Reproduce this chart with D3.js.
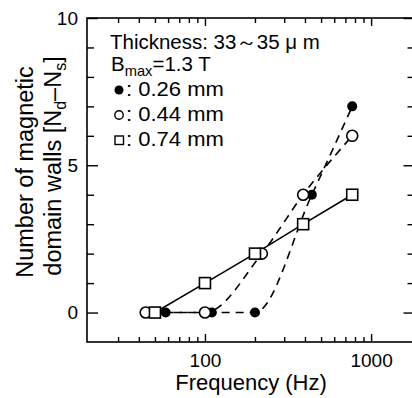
<!DOCTYPE html>
<html>
<head>
<meta charset="utf-8">
<script src="https://cdn.jsdelivr.net/npm/d3@7"></script>
<style>
  html, body { margin: 0; padding: 0; background: #fff; }
  svg { display: block; font-family: "Liberation Sans", Arial, Helvetica, sans-serif; }
</style>
</head>
<body>
<div id="chart"></div>
<script>
// frequency (Hz) and number of domain walls per sheet thickness
const freq026 = [58, 110, 200, 440, 770];
const walls026 = [0, 0, 0, 4, 7];
const freq044 = [44, 100, 220, 390, 770];
const walls044 = [0, 0, 2, 4, 6];
const freq074 = [50, 100, 200, 390, 770];
const walls074 = [0, 1, 2, 3, 4];

const freqDomain = [19.5, 1800];
const wallDomain = [-1, 10];
const xMajor = [100, 1000];
const xMinor = [30, 40, 50, 60, 70, 80, 90, 200, 300, 400, 500, 600, 700, 800, 900];
const yMajor = [0, 5, 10];
const yMinor = [1, 2, 3, 4, 6, 7, 8, 9];
const legendLabels = [': 0.26 mm', ': 0.44 mm', ': 0.74 mm'];

const width = 412, height = 398;
const margin = {top: 18, right: -1.5, bottom: 56, left: 87};

const svg = d3.select('#chart').append('svg')
    .attr('width', width)
    .attr('height', height);

const x = d3.scaleLog()
    .domain(freqDomain)
    .range([margin.left, width - margin.right]);
const y = d3.scaleLinear()
    .domain(wallDomain)
    .range([height - margin.bottom, margin.top]);

const plotW = x.range()[1] - x.range()[0];
const plotH = y.range()[0] - y.range()[1];

// ticks, all pointing inside the frame
function tickGroup(axis, tx, ty) {
  const g = svg.append('g')
      .attr('transform', `translate(${tx},${ty})`)
      .call(axis);
  g.select('.domain').remove();
  g.selectAll('line').attr('stroke-width', 1.4);
  g.attr('font-family', null).attr('font-size', 19);
  return g;
}

const xB = y(wallDomain[0]), yT = y(wallDomain[1]);
const xL = x(freqDomain[0]), xR = x(freqDomain[1]);

tickGroup(d3.axisBottom(x).tickValues(xMinor).tickSize(-5).tickFormat(''), 0, xB);
tickGroup(d3.axisBottom(x).tickValues(xMajor).tickSize(-8).tickPadding(12)
    .tickFormat(d3.format('d')), 0, xB);
tickGroup(d3.axisTop(x).tickValues(xMinor).tickSize(-5).tickFormat(''), 0, yT);
tickGroup(d3.axisTop(x).tickValues(xMajor).tickSize(-8).tickFormat(''), 0, yT);

tickGroup(d3.axisLeft(y).tickValues(yMinor).tickSize(-7).tickFormat(''), xL, 0);
tickGroup(d3.axisLeft(y).tickValues(yMajor).tickSize(-11).tickPadding(9)
    .tickFormat(d3.format('d')), xL, 0);
tickGroup(d3.axisRight(y).tickValues(yMinor).tickSize(-6).tickFormat(''), xR, 0);
tickGroup(d3.axisRight(y).tickValues(yMajor).tickSize(-10).tickFormat(''), xR, 0);

// frame
svg.append('rect')
    .attr('x', xL).attr('y', yT)
    .attr('width', plotW).attr('height', plotH)
    .attr('fill', 'none')
    .attr('stroke', '#000')
    .attr('stroke-width', 1.6);

// curves
const toPts = (fs, ws) => fs.map((f, i) => [f, ws[i]]);
const data026 = toPts(freq026, walls026);
const data044 = toPts(freq044, walls044);
const data074 = toPts(freq074, walls074);

const smooth = d3.line().x(d => x(d[0])).y(d => y(d[1])).curve(d3.curveMonotoneX);
const straight = d3.line().x(d => x(d[0])).y(d => y(d[1]));

svg.append('path').attr('d', smooth(data026))
    .attr('fill', 'none').attr('stroke', '#000').attr('stroke-width', 1.6)
    .attr('stroke-dasharray', '8,6');
svg.append('path').attr('d', smooth(data044))
    .attr('fill', 'none').attr('stroke', '#000').attr('stroke-width', 1.6)
    .attr('stroke-dasharray', '8,6');
svg.append('path').attr('d', straight(data074))
    .attr('fill', 'none').attr('stroke', '#000').attr('stroke-width', 1.6);

// markers
svg.selectAll('.m026').data(data026).enter().append('circle')
    .attr('class', 'm026')
    .attr('cx', d => x(d[0])).attr('cy', d => y(d[1]))
    .attr('r', 5).attr('fill', '#000');
svg.selectAll('.m044').data(data044).enter().append('circle')
    .attr('class', 'm044')
    .attr('cx', d => x(d[0])).attr('cy', d => y(d[1]))
    .attr('r', 5.5).attr('fill', '#fff')
    .attr('stroke', '#000').attr('stroke-width', 1.6);
svg.selectAll('.m074').data(data074).enter().append('rect')
    .attr('class', 'm074')
    .attr('x', d => x(d[0]) - 5.5).attr('y', d => y(d[1]) - 5.5)
    .attr('width', 11).attr('height', 11)
    .attr('fill', '#fff')
    .attr('stroke', '#000').attr('stroke-width', 1.6);

// legend (the scanned type runs a little wide, hence the scaleX)
const leg = svg.append('g').attr('font-size', 19.5);
leg.append('text')
    .attr('transform', 'translate(110,49) scale(1.05,1)')
    .text('Thickness: 33～35 μ m');
const bmax = leg.append('text').attr('transform', 'translate(111,71) scale(1.05,1)');
bmax.append('tspan').text('B');
bmax.append('tspan').attr('font-size', 14).attr('dy', 5).text('max');
bmax.append('tspan').attr('dy', -5).text('=1.3 T');

const rowY = [96, 121, 146];
leg.append('circle').attr('cx', 119).attr('cy', rowY[0] - 6).attr('r', 4.5).attr('fill', '#000');
leg.append('circle').attr('cx', 119).attr('cy', rowY[1] - 6).attr('r', 4.2)
    .attr('fill', '#fff').attr('stroke', '#000').attr('stroke-width', 1.4);
leg.append('rect').attr('x', 115).attr('y', rowY[2] - 10).attr('width', 8.5).attr('height', 8.5)
    .attr('fill', '#fff').attr('stroke', '#000').attr('stroke-width', 1.4);
leg.selectAll('.lt').data(legendLabels).enter().append('text')
    .attr('class', 'lt')
    .attr('transform', (d, i) => `translate(126,${rowY[i]}) scale(1.13,1)`)
    .text(d => d);

// axis titles
svg.append('text')
    .attr('x', 251).attr('y', 390)
    .attr('text-anchor', 'middle')
    .attr('font-size', 22)
    .text('Frequency (Hz)');

const yt = svg.append('g').attr('font-size', 23.5).attr('text-anchor', 'middle');
yt.append('text')
    .attr('transform', 'translate(33,172) rotate(-90)')
    .text('Number of magnetic');
const yt2 = yt.append('text')
    .attr('transform', 'translate(61,166) rotate(-90)');
yt2.append('tspan').text('domain walls [N');
yt2.append('tspan').attr('font-size', 16).attr('dy', 5).text('d');
yt2.append('tspan').attr('dy', -5).text('–N');
yt2.append('tspan').attr('font-size', 16).attr('dy', 5).text('s');
yt2.append('tspan').attr('dy', -5).text(']');
</script>
</body>
</html>
